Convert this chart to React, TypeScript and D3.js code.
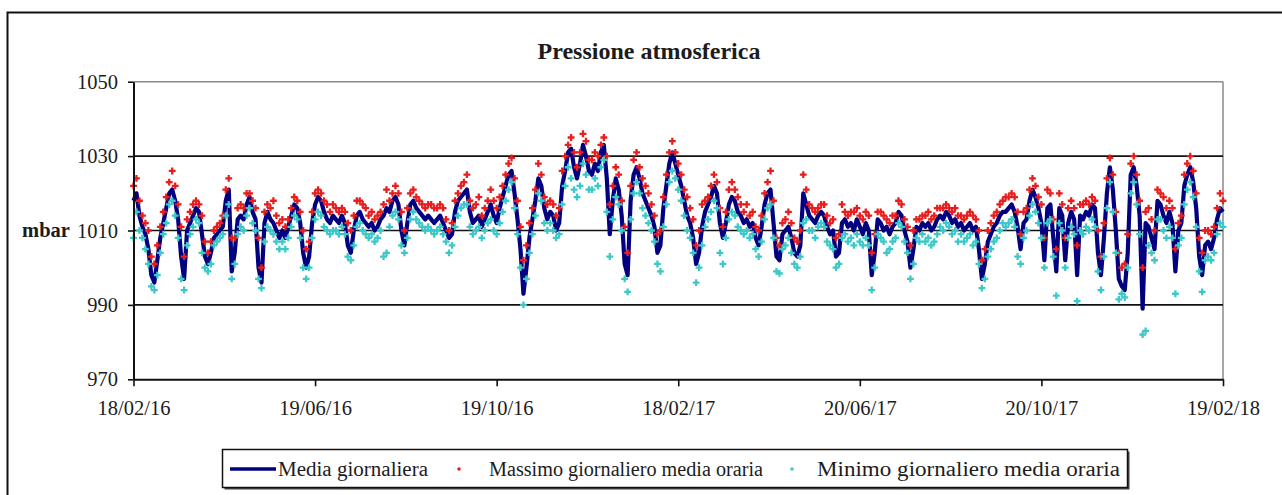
import React, { useEffect, useRef } from 'react';
import * as d3 from 'd3';

// values every 2 days, starting 18/02/16
const startDate = '18/02/16';
const stepDays = 2;
const tickLabels = ['18/02/16', '19/06/16', '19/10/16', '18/02/17', '20/06/17', '20/10/17', '19/02/18'];
const yTicks = [970, 990, 1010, 1030, 1050];
const gridValues = [990, 1010, 1030];
const legendLabels = ['Media giornaliera', 'Massimo giornaliero media oraria', 'Minimo giornaliero media oraria'];

const mediaGiornaliera = [
  1018, 1020, 1014, 1011, 1009, 1005, 998, 996, 1002, 1008,
  1012, 1016, 1020, 1021, 1018, 1013, 1003, 997, 1010, 1012,
  1014, 1016, 1015, 1009, 1003, 1001, 1004, 1008, 1009, 1010,
  1011, 1018, 1021, 999, 1004, 1013, 1014, 1013, 1017, 1019,
  1015, 1013, 1000, 996, 1012, 1015, 1013, 1012, 1010, 1008,
  1010, 1008, 1011, 1014, 1017, 1016, 1012, 1004, 1000, 1003,
  1012, 1017, 1019, 1018, 1015, 1013, 1012, 1014, 1013, 1012,
  1014, 1012, 1006, 1004, 1010, 1014, 1015, 1013, 1012, 1011,
  1012, 1010, 1011, 1013, 1014, 1016, 1015, 1018, 1019, 1017,
  1010, 1006, 1012, 1017, 1018, 1016, 1015, 1014, 1013, 1014,
  1013, 1012, 1013, 1014, 1012, 1010, 1008, 1009, 1015, 1018,
  1019, 1020, 1021, 1015, 1012, 1013, 1014, 1011, 1013, 1015,
  1017, 1014, 1012, 1016, 1019, 1022, 1025, 1026, 1020, 1013,
  1005, 993, 1000, 1008, 1013, 1018, 1024, 1022, 1016, 1013,
  1015, 1014, 1010, 1012, 1022, 1026, 1031, 1032, 1027, 1024,
  1028, 1033, 1030, 1026, 1025, 1028, 1026, 1031, 1033, 1024,
  1009, 1018, 1024, 1021, 1014, 1001, 998, 1018, 1025, 1027,
  1024, 1020, 1018, 1016, 1014, 1011, 1004, 1006, 1016, 1022,
  1028, 1031, 1028, 1025, 1022, 1018, 1014, 1012, 1008, 1001,
  1004, 1011, 1015, 1017, 1019, 1022, 1020, 1012, 1008, 1012,
  1017, 1019, 1018, 1015, 1014, 1012, 1013, 1011, 1012, 1008,
  1006, 1011, 1017, 1020, 1021, 1012, 1003, 1002, 1009, 1010,
  1011, 1008, 1004, 1003, 1006, 1020, 1017, 1014, 1013, 1012,
  1014, 1015, 1014, 1011, 1009, 1010, 1003, 1004, 1012, 1013,
  1011, 1012, 1010, 1013, 1011, 1009, 1012, 1010, 998, 1004,
  1013, 1012, 1010, 1011, 1009, 1011, 1012, 1015, 1014, 1010,
  1007, 1000, 1005, 1011, 1010, 1012, 1011, 1012, 1010, 1011,
  1013, 1014, 1013, 1015, 1014, 1012, 1013, 1011, 1012, 1010,
  1011, 1012, 1010, 1011, 1005, 997, 1001, 1007, 1009, 1011,
  1012, 1014, 1015, 1015, 1016, 1017, 1015, 1011, 1005, 1012,
  1013, 1018, 1021, 1019, 1016, 1012, 1002, 1016, 1017, 1008,
  999, 1016, 1014, 1002, 1012, 1015, 1013, 998, 1014, 1013,
  1015, 1014, 1017, 1016, 1004, 998, 1008, 1020, 1027, 1021,
  1010, 997, 995, 994, 1004, 1025, 1027, 1022, 1014, 989,
  1012, 1011, 1008, 1005, 1018, 1017, 1014, 1012, 1015, 1012,
  999, 1010, 1012, 1022, 1025, 1027, 1023, 1016, 1003, 998,
  1006, 1007, 1005, 1008, 1013, 1016, 1015,
];

const massimoGiornaliero = [
  1022, 1024, 1018, 1014, 1012, 1010, 1003, 1001, 1006, 1011,
  1015, 1019, 1023, 1026, 1022, 1017, 1011, 1003, 1013, 1015,
  1017, 1018, 1017, 1014, 1007, 1004, 1007, 1010, 1011, 1012,
  1014, 1021, 1024, 1008, 1008, 1016, 1017, 1016, 1020, 1020,
  1018, 1016, 1008, 1000, 1015, 1017, 1016, 1018, 1014, 1012,
  1013, 1011, 1013, 1016, 1019, 1018, 1015, 1010, 1005, 1007,
  1015, 1020, 1021, 1020, 1018, 1017, 1015, 1017, 1016, 1015,
  1016, 1015, 1012, 1010, 1014, 1018, 1018, 1017, 1016, 1014,
  1015, 1013, 1014, 1015, 1017, 1021, 1018, 1020, 1022, 1020,
  1015, 1010, 1016, 1020, 1021, 1019, 1018, 1017, 1016, 1017,
  1017, 1016, 1016, 1017, 1016, 1013, 1010, 1012, 1018, 1020,
  1022, 1023, 1025, 1018, 1016, 1017, 1019, 1014, 1016, 1018,
  1021, 1018, 1016, 1019, 1022, 1025, 1028, 1029.5, 1024, 1018,
  1011, 1002, 1006, 1012, 1016, 1021, 1028, 1025, 1019, 1017,
  1018, 1017, 1014, 1016, 1026, 1030, 1033, 1035, 1031, 1027,
  1031, 1036, 1034, 1029, 1029, 1031, 1030, 1033, 1035, 1030,
  1017, 1022, 1027, 1025, 1018, 1011, 1004, 1022, 1029, 1031,
  1027, 1024, 1022, 1020, 1017, 1014, 1009, 1010, 1019, 1025,
  1031, 1034, 1031, 1028, 1025, 1021, 1019, 1016, 1013, 1006,
  1010, 1017, 1018, 1019, 1022, 1025, 1023, 1016, 1011, 1015,
  1021, 1023, 1021, 1019, 1017, 1015, 1017, 1014, 1015, 1011,
  1010, 1014, 1020, 1023, 1026, 1018, 1008, 1006, 1012, 1013,
  1015, 1012, 1008, 1007, 1010, 1025, 1021, 1017, 1016, 1015,
  1016, 1017, 1017, 1014, 1012, 1013, 1008, 1009, 1017, 1015,
  1014, 1015, 1015, 1016, 1014, 1013, 1015, 1014, 1004, 1009,
  1015, 1015, 1014, 1013, 1012, 1014, 1014, 1018, 1017, 1013,
  1011, 1006, 1010, 1013, 1013, 1014, 1014, 1015, 1013, 1014,
  1016, 1016, 1016, 1017, 1016, 1015, 1016, 1014, 1014, 1013,
  1014, 1015, 1014, 1013, 1010, 1002, 1005, 1010, 1012, 1014,
  1015, 1017, 1018, 1019, 1019, 1020, 1019, 1015, 1009, 1015,
  1016, 1021, 1024, 1022, 1019, 1017, 1008, 1021, 1020, 1013,
  1005, 1020, 1017, 1008, 1016, 1018, 1016, 1006, 1017, 1017,
  1018, 1017, 1019, 1018, 1010, 1003, 1012, 1024, 1029.5, 1025,
  1015, 1004, 1000, 1001, 1009, 1028, 1030, 1025, 1018, 1000,
  1015, 1016, 1013, 1010, 1021, 1020, 1019, 1016, 1018, 1016,
  1005, 1012, 1014, 1025, 1028, 1030, 1026, 1020, 1008, 1004,
  1010, 1010, 1009, 1011, 1016, 1020, 1018,
];

const minimoGiornaliero = [
  1008, 1015, 1010, 1008, 1005, 1001, 995, 994, 998, 1004,
  1009, 1012, 1017, 1018, 1014, 1008, 997, 994, 1006, 1009,
  1011, 1013, 1012, 1004, 1000, 999, 1001, 1006, 1007, 1008,
  1009, 1014, 1017, 997, 1001, 1009, 1011, 1010, 1014, 1016,
  1012, 1010, 997, 994.5, 1007, 1011, 1010, 1009, 1007, 1005,
  1007, 1005, 1008, 1011, 1014, 1013, 1008, 1000, 997, 1000,
  1008, 1013, 1015, 1014, 1011, 1010, 1009, 1010, 1010, 1009,
  1011, 1009, 1003, 1002, 1006, 1011, 1012, 1010, 1009, 1008,
  1009, 1007, 1008, 1010, 1003, 1004, 1011, 1014, 1015, 1013,
  1006, 1004, 1008, 1013, 1015, 1013, 1012, 1011, 1010, 1011,
  1010, 1009, 1010, 1011, 1009, 1007, 1004, 1006, 1011, 1014,
  1016, 1017, 1017, 1011, 1009, 1010, 1011, 1008, 1010, 1012,
  1013, 1010, 1009, 1012, 1015, 1018, 1021, 1023, 1016, 1009,
  1000, 990, 997, 1004, 1009, 1014, 1020, 1018, 1012, 1010,
  1012, 1010, 1008, 1009, 1017, 1022, 1027, 1024, 1021, 1019,
  1022, 1028, 1025, 1021, 1021, 1024, 1022, 1027, 1029, 1015,
  1003, 1013, 1019, 1017, 1010, 997, 993.5, 1013, 1020, 1023,
  1020, 1016, 1014, 1012, 1010, 1007, 1001, 999, 1011, 1017,
  1023, 1026, 1024, 1021, 1018, 1014, 1010, 1008, 1004, 996,
  1000, 1006, 1011, 1013, 1015, 1018, 1016, 1004, 1001, 1008,
  1013, 1015, 1014, 1011, 1010, 1009, 1010, 1008, 1009, 1005,
  1003, 1007, 1013, 1016, 1017, 1008, 999, 998.5, 1005, 1006,
  1008, 1004, 1001, 1000, 1003, 1012, 1013, 1010, 1010, 1008,
  1011, 1012, 1011, 1007, 1006, 1005, 1000, 1001, 1008, 1009,
  1007, 1008, 1006, 1009, 1007, 1006, 1008, 1006, 994, 1000,
  1009, 1008, 1007, 1004, 1005, 1007, 1008, 1012, 1011, 1007,
  1004, 997, 1001, 1008, 1007, 1009, 1007, 1008, 1006, 1007,
  1009, 1011, 1010, 1012, 1011, 1009, 1010, 1007, 1009, 1007,
  1008, 1009, 1006, 1007, 1001, 994.5, 997, 1003, 1005, 1007,
  1008, 1010, 1012, 1011, 1012, 1013, 1011, 1003, 1001, 1008,
  1010, 1014, 1017, 1015, 1012, 1008, 1000, 1012, 1013, 1003,
  992.5, 1012, 1010, 1000, 1008, 1011, 1009, 991, 1010, 1009,
  1011, 1010, 1013, 1011, 999, 994, 1003, 1016, 1023, 1015,
  1004, 991.5, 993, 992, 1000, 1020, 1023, 1017, 1009, 982,
  983, 1006, 1004, 1002, 1013, 1013, 1010, 1008, 1011, 1008,
  993, 1006, 1008, 1017, 1021, 1023, 1019, 1011, 999, 993.5,
  1002, 1003, 1002, 1004, 1009, 1012, 1011,
];

const W = 1282;
const H = 495;
const FONT = '"Liberation Serif", "Times New Roman", serif';
const TEXT = '#1c1c1c';
const NAVY = '#000080';
const RED = '#e81e1e';
const CYAN = '#3cc8c8';

export default function App() {
  const ref = useRef<SVGSVGElement>(null);

  useEffect(() => {
    drawChart();
  }, []);

  const drawChart = () => {
    const svg = d3.select(ref.current);
    svg.selectAll('*').remove();

    const parse = d3.timeParse('%d/%m/%y');
    const fmt = d3.timeFormat('%d/%m/%y');
    const t0 = parse(startDate) as Date;
    const dates = mediaGiornaliera.map((_, i) => d3.timeDay.offset(t0, i * stepDays));
    const tickDates = tickLabels.map(s => parse(s) as Date);

    const plot = { left: 133.5, right: 1223, top: 81.7, bottom: 379.3 };

    const x = d3.scaleTime()
      .domain([tickDates[0], tickDates[tickDates.length - 1]])
      .range([plot.left, plot.right]);
    const y = d3.scaleLinear()
      .domain([970, 1050])
      .range([plot.bottom, plot.top]);

    svg.append('rect')
      .attr('width', W).attr('height', H).attr('fill', '#fff');

    // outer chart border (runs off the right and bottom edges)
    svg.append('rect')
      .attr('x', 7.5).attr('y', 12.5)
      .attr('width', 1300).attr('height', 500)
      .attr('fill', 'none').attr('stroke', '#111').attr('stroke-width', 2);

    // title
    svg.append('text')
      .attr('x', 649).attr('y', 59)
      .attr('text-anchor', 'middle')
      .style('font-family', FONT).style('font-size', '24px').style('font-weight', 'bold')
      .attr('fill', TEXT)
      .text('Pressione atmosferica');

    // plot frame top/right in grey
    svg.append('line')
      .attr('x1', plot.left).attr('x2', plot.right)
      .attr('y1', y(1050)).attr('y2', y(1050))
      .attr('stroke', '#8a8a8a').attr('stroke-width', 1.5);
    svg.append('line')
      .attr('x1', plot.right).attr('x2', plot.right)
      .attr('y1', plot.top).attr('y2', plot.bottom)
      .attr('stroke', '#8a8a8a').attr('stroke-width', 1.5);

    // gridlines
    svg.append('g')
      .selectAll('line')
      .data(gridValues)
      .join('line')
      .attr('x1', plot.left).attr('x2', plot.right)
      .attr('y1', d => y(d)).attr('y2', d => y(d))
      .attr('stroke', '#111').attr('stroke-width', 1.6);

    // mean line
    const line = d3.line<number>()
      .x((_, i) => x(dates[i]))
      .y(d => y(d));
    svg.append('path')
      .datum(mediaGiornaliera)
      .attr('fill', 'none')
      .attr('stroke', NAVY)
      .attr('stroke-width', 4.2)
      .attr('stroke-linejoin', 'round')
      .attr('d', line);

    const cross = d3.symbol().type(d3.symbolCross).size(26)();

    svg.append('g')
      .selectAll('path')
      .data(massimoGiornaliero)
      .join('path')
      .attr('d', cross)
      .attr('transform', (d, i) => `translate(${x(dates[i])},${y(d)})`)
      .attr('fill', RED);

    svg.append('g')
      .selectAll('path')
      .data(minimoGiornaliero)
      .join('path')
      .attr('d', cross)
      .attr('transform', (d, i) => `translate(${x(dates[i])},${y(d)})`)
      .attr('fill', CYAN);

    // axes
    const yAxis = svg.append('g')
      .attr('transform', `translate(${plot.left},0)`)
      .call(d3.axisLeft(y).tickValues(yTicks).tickFormat(d3.format('d')).tickSize(5.5).tickSizeOuter(0).tickPadding(10));
    const xAxis = svg.append('g')
      .attr('transform', `translate(0,${plot.bottom})`)
      .call(d3.axisBottom(x).tickValues(tickDates).tickFormat(d => fmt(d as Date)).tickSize(7).tickSizeOuter(0).tickPadding(14));

    [yAxis, xAxis].forEach(g => {
      g.select('.domain').attr('stroke', '#111').attr('stroke-width', 2);
      g.selectAll('.tick line').attr('stroke', '#111').attr('stroke-width', 1.6);
      g.selectAll('.tick text')
        .style('font-family', FONT).style('font-size', '20.5px').attr('fill', TEXT);
    });

    svg.append('text')
      .attr('x', 46).attr('y', y(1010))
      .attr('dy', '0.32em')
      .attr('text-anchor', 'middle')
      .style('font-family', FONT).style('font-size', '20.5px').style('font-weight', 'bold')
      .attr('fill', TEXT)
      .text('mbar');

    // legend
    const lg = svg.append('g');
    lg.append('rect')
      .attr('x', 224.5).attr('y', 451.5).attr('width', 905).attr('height', 38)
      .attr('fill', '#444');
    lg.append('rect')
      .attr('x', 222.5).attr('y', 449.5).attr('width', 905).attr('height', 38)
      .attr('fill', '#fff').attr('stroke', '#111').attr('stroke-width', 1.5);

    const ly = 469;
    lg.append('line')
      .attr('x1', 230).attr('x2', 276).attr('y1', ly).attr('y2', ly)
      .attr('stroke', NAVY).attr('stroke-width', 3.5);
    lg.append('circle').attr('cx', 459).attr('cy', ly).attr('r', 1.8).attr('fill', RED);
    lg.append('circle').attr('cx', 792).attr('cy', ly).attr('r', 1.8).attr('fill', CYAN);

    const items = [
      { x: 278, w: 150, label: legendLabels[0] },
      { x: 489, w: 274, label: legendLabels[1] },
      { x: 817, w: 303, label: legendLabels[2] },
    ];
    lg.selectAll('text.leg')
      .data(items)
      .join('text')
      .attr('class', 'leg')
      .attr('x', d => d.x).attr('y', 476)
      .attr('textLength', d => d.w)
      .attr('lengthAdjust', 'spacingAndGlyphs')
      .style('font-family', FONT).style('font-size', '20.5px')
      .attr('fill', TEXT)
      .text(d => d.label);
  };

  return (
    <svg ref={ref} width={W} height={H} style={{ position: 'absolute', left: 0, top: 0 }} />
  );
}
